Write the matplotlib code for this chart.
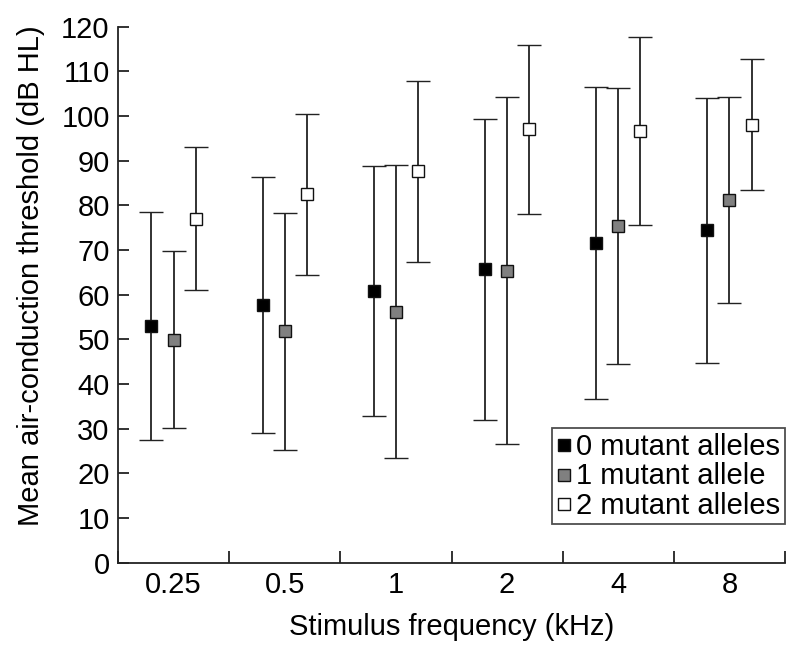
import matplotlib
matplotlib.use("Agg")
import matplotlib.pyplot as plt
from matplotlib.lines import Line2D
import numpy as np

plt.rcParams['font.family'] = ['Liberation Sans', 'DejaVu Sans']

categories = ["0.25", "0.5", "1", "2", "4", "8"]
series_names = ["0 mutant alleles", "1 mutant allele", "2 mutant alleles"]

mean_0 = [53.0, 57.7, 60.9, 65.7, 71.6, 74.4]
sd_0 = [25.6, 28.75, 28.0, 33.75, 34.95, 29.65]
mean_1 = [49.9, 51.8, 56.2, 65.4, 75.4, 81.3]
sd_1 = [19.85, 26.55, 32.8, 38.8, 30.8, 23.05]
mean_2 = [77.0, 82.5, 87.6, 97.0, 96.7, 98.1]
sd_2 = [16.0, 18.05, 20.35, 18.85, 21.0, 14.7]

means = [mean_0, mean_1, mean_2]
sds = [sd_0, sd_1, sd_2]
face_colors = ["#000000", "#808080", "#ffffff"]
offsets = [-0.2, 0.0, 0.2]

FS = 21

fig = plt.figure(figsize=(8, 6.6), dpi=100)
ax = fig.add_axes([0.1475, 0.1474, 0.83375, 0.8121])

centers = np.arange(len(categories)) + 0.5
for m, s, fc, off, name in zip(means, sds, face_colors, offsets, series_names):
    ax.errorbar(centers + off, m, yerr=s, fmt='s', markersize=8.5,
                markerfacecolor=fc, markeredgecolor='#111111', markeredgewidth=1.0,
                ecolor='#222222', elinewidth=1.3, capsize=8.3, capthick=1.3,
                label=name, zorder=3)

ax.set_xlim(0, len(categories))
ax.set_ylim(0, 120)
ax.set_yticks(np.arange(0, 121, 10))
ax.set_xticks(centers)
ax.set_xticklabels(categories)
ax.set_xticks(np.arange(0, len(categories) + 1), minor=True)

ax.spines['top'].set_visible(False)
ax.spines['right'].set_visible(False)
for sp in ['left', 'bottom']:
    ax.spines[sp].set_linewidth(1.3)
    ax.spines[sp].set_color('#222222')

ax.tick_params(axis='y', direction='in', length=8, width=1.3, labelsize=FS, pad=6, color='#222222')
ax.tick_params(axis='x', which='major', length=0, labelsize=FS, pad=6)
ax.tick_params(axis='x', which='minor', direction='in', length=8.5, width=1.3, color='#222222')

ax.set_xlabel("Stimulus frequency (kHz)", fontsize=FS, labelpad=10)
ax.set_ylabel("Mean air-conduction threshold (dB HL)", fontsize=FS)
ax.yaxis.set_label_coords(-0.11, 0.536)

handles = [Line2D([], [], linestyle='none', marker='s', markersize=8,
                  markerfacecolor=fc, markeredgecolor='#111111', markeredgewidth=1.0)
           for fc in face_colors]
leg = ax.legend(handles, series_names, loc='lower right', bbox_to_anchor=(1.0, 0.072),
                fontsize=FS, frameon=True, fancybox=False, edgecolor='#222222',
                handlelength=0.55, handletextpad=0.15, borderpad=0.15, labelspacing=0.05,
                borderaxespad=0.0, handleheight=0.6)
leg.get_frame().set_linewidth(1.3)

fig.savefig("out.png", dpi=100)
